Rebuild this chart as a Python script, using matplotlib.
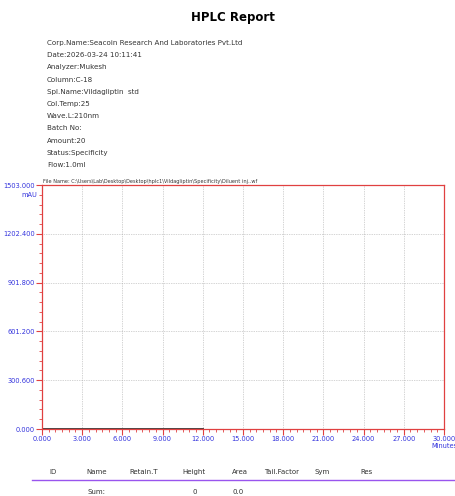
import numpy as np
import matplotlib.pyplot as plt

# report header
title = "HPLC Report"
info = [
    "Corp.Name:Seacoin Research And Laboratories Pvt.Ltd",
    "Date:2026-03-24 10:11:41",
    "Analyzer:Mukesh",
    "Column:C-18",
    "Spl.Name:Vildagliptin  std",
    "Col.Temp:25",
    "Wave.L:210nm",
    "Batch No:",
    "Amount:20",
    "Status:Specificity",
    "Flow:1.0ml",
]
file_name = "File Name: C:\\Users\\Lab\\Desktop\\Desktop\\hplc1\\Vildagliptin\\Specificity\\Diluent inj..wf"

# chromatogram (flat baseline)
time_min = [0.0, 12.0]
signal = [0.0, 0.0]

x_ticks = [0, 3, 6, 9, 12, 15, 18, 21, 24, 27, 30]
y_ticks = [0.0, 300.6, 601.2, 901.8, 1202.4, 1503.0]

# peak table
columns = ["ID", "Name", "Retain.T", "Height", "Area", "Tail.Factor", "Sym", "Res"]
sum_row = ["", "Sum:", "", "0", "0.0", "", "", ""]

W, H = 456, 496
fig = plt.figure(figsize=(W / 100, H / 100), dpi=100)

def px(x, y):
    return x / W, 1 - y / H

fig.text(*px(233, 18), title, ha="center", va="center", fontsize=8.5, fontweight="bold")
for i, line in enumerate(info):
    fig.text(*px(47, 43 + i * 12.2), line, ha="left", va="center", fontsize=5.1, color="#333333")
fig.text(*px(43, 181), file_name, ha="left", va="center", fontsize=3.6, color="#333333")

left, top, right, bottom = 42, 185, 444, 429
ax = fig.add_axes([left / W, 1 - bottom / H, (right - left) / W, (bottom - top) / H])
ax.plot(time_min, signal, color="#444444", lw=1.4)
ax.set_xlim(0, 30)
ax.set_ylim(0, 1503)
ax.set_xticks(x_ticks)
ax.set_yticks(y_ticks)
ax.set_xticks(np.arange(0, 30.01, 0.5), minor=True)
ax.set_yticks(np.arange(0, 1503.1, 60.12), minor=True)
ax.set_xticklabels([f"{v:.3f}" for v in x_ticks], color="#3333dd", fontsize=4.8)
ax.set_yticklabels([f"{v:.3f}" for v in y_ticks], color="#3333dd", fontsize=4.8)
ax.tick_params(which="major", length=4, color="#e04040", width=0.8, pad=1)
ax.tick_params(which="minor", length=2, color="#e04040", width=0.6)
ax.grid(True, which="major", color="#aaaaaa", linestyle=(0, (1, 1.5)), lw=0.5)
for s in ax.spines.values():
    s.set_color("#e04040")
    s.set_linewidth(0.9)
ax.text(1.0, -0.068, "Minutes", transform=ax.transAxes, ha="center", va="center",
        fontsize=4.8, color="#3333dd")
ax.text(-0.012, 0.96, "mAU", transform=ax.transAxes, ha="right", va="center",
        fontsize=4.8, color="#3333dd")

col_x = [53, 97, 144, 194, 240, 282, 322, 367]
val_x = [53, 97, 144, 195, 238, 282, 322, 367]
for cx, vx, name, val in zip(col_x, val_x, columns, sum_row):
    fig.text(*px(cx, 472), name, ha="center", va="center", fontsize=5, color="#333333")
    if val:
        fig.text(*px(vx, 492), val, ha="center", va="center", fontsize=5, color="#333333")
fig.add_artist(plt.Line2D([32 / W, 1.0], [1 - 480 / H] * 2, color="#9955ee", lw=1.0))

fig.savefig("out.png", dpi=100)
